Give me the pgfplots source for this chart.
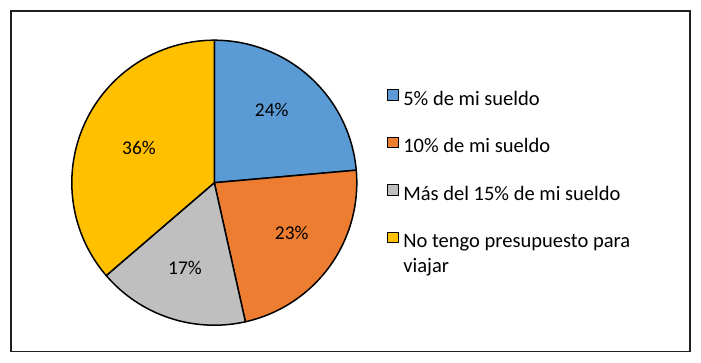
\documentclass[border=0pt]{standalone}
\usepackage{pgfplots}
\pgfplotsset{compat=1.18}
\usepackage{fontspec}
\setmainfont{Carlito}
\definecolor{cblue}{HTML}{5B9BD5}
\definecolor{corange}{HTML}{ED7D31}
\definecolor{cgray}{HTML}{BFBFBF}
\definecolor{cyellow}{HTML}{FFC000}
% shares (percent)
\def\vA{23.6}\def\vB{22.9}\def\vC{17.2}\def\vD{36.3}
\pgfmathsetmacro\aA{90}
\pgfmathsetmacro\aB{\aA-3.6*\vA}
\pgfmathsetmacro\aC{\aB-3.6*\vB}
\pgfmathsetmacro\aD{\aC-3.6*\vC}
\pgfmathsetmacro\aE{\aD-3.6*\vD}
\def\cx{214.3}\def\cy{179.3}\def\rr{142.5}
\newcommand\slice[3]{%
  \addplot[fill=#3, draw=black, line width=1.5bp, line join=round, domain=#2:#1, samples=90]
    ({\cx+\rr*cos(x)},{\cy+\rr*sin(x)}) -- (axis cs:\cx,\cy) -- cycle;}
\newcommand\lfont{\fontsize{20.6}{24.5}\selectfont}
\newcommand\pfont{\fontsize{19.5}{23}\selectfont}
\begin{document}
\begin{tikzpicture}
\begin{axis}[
  x=1bp, y=1bp,
  xmin=11, xmax=690, ymin=10.3, ymax=351,
  axis lines=box, ticks=none,
  axis line style={draw=black!88, line width=1.2bp},
  clip=false,
  legend image code/.code={\draw[#1, draw=black, line width=1bp] (0bp,0.5bp) rectangle (11bp,11bp);},
  legend style={draw=none, fill=none, font=\lfont, at={(axis cs:387.3,273)}, anchor=north west,
    inner sep=0pt, outer sep=0pt, row sep=26.6bp, column sep=4bp, legend cell align=left,
    nodes={inner sep=0pt, outer sep=0pt, text height=14bp, text depth=5bp}},
]
\path (axis cs:0,0) rectangle (axis cs:701,362);
\slice{\aA}{\aB}{cblue}
\addlegendentry{5\% de mi sueldo}
\slice{\aB}{\aC}{corange}
\addlegendentry{10\% de mi sueldo}
\slice{\aC}{\aD}{cgray}
\addlegendentry{Más del 15\% de mi sueldo}
\slice{\aD}{\aE}{cyellow}
\addlegendentry{\parbox[t]{270bp}{\raggedright No tengo presupuesto para\\viajar}}
\node[font=\pfont] at (axis cs:271.7,252) {24\%};
\node[font=\pfont] at (axis cs:291.7,128.7) {23\%};
\node[font=\pfont] at (axis cs:185,94.3) {17\%};
\node[font=\pfont] at (axis cs:139,214.3) {36\%};
\end{axis}
\end{tikzpicture}
\end{document}
